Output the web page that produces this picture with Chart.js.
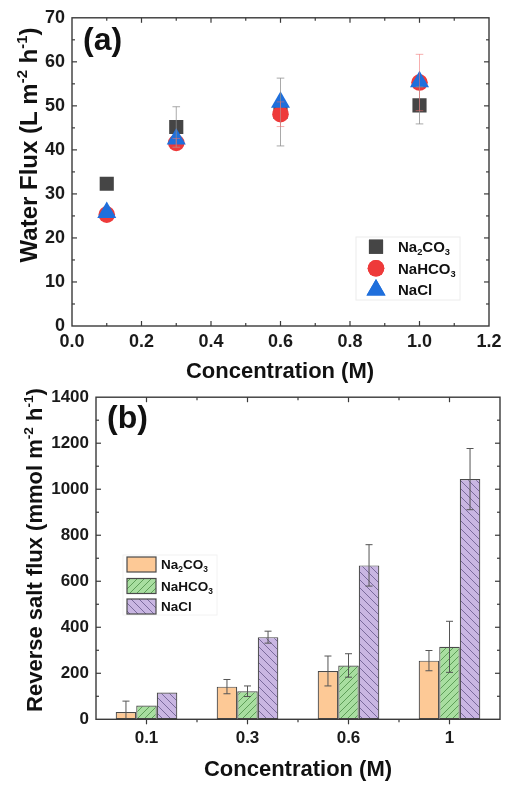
<!DOCTYPE html>
<html><head><meta charset="utf-8">
<script src="https://cdn.jsdelivr.net/npm/chart.js@4.4.1/dist/chart.umd.min.js"></script>
<style>
html,body{margin:0;padding:0;background:#fff;width:509px;height:785px;overflow:hidden}
canvas{position:absolute;left:0}
#ca{top:0}
#cb{top:380px}
</style></head><body>
<canvas id="ca" width="509" height="392"></canvas>
<canvas id="cb" width="509" height="405"></canvas>
<script>
// ---------- data: panel (a) ----------
const concA = [0.1, 0.3, 0.6, 1.0];
const fluxNa2CO3 = [32.3, 45.2, 48.6, 50.1];
const errFluxNa2CO3 = [0, 4.6, 7.7, 4.2];
const fluxNaHCO3 = [25.3, 41.6, 48.1, 55.3];
const errFluxNaHCO3 = [0, 1.0, 2.8, 6.4];
const fluxNaCl = [25.8, 42.5, 50.8, 55.5];
const errFluxNaCl = [0, 0, 0, 0];
const xTicksA = [0, 0.2, 0.4, 0.6, 0.8, 1.0, 1.2];
const yTicksA = [0, 10, 20, 30, 40, 50, 60, 70];

// ---------- data: panel (b) ----------
const categoriesB = ['0.1', '0.3', '0.6', '1'];
const rsfNa2CO3 = [32, 142, 210, 255];
const errRsfNa2CO3 = [47, 31, 65, 44];
const rsfNaHCO3 = [60, 122, 234, 315];
const errRsfNaHCO3 = [0, 23, 51, 111];
const rsfNaCl = [116, 357, 669, 1044];
const errRsfNaCl = [0, 26, 90, 133];
const yTicksB = [0, 200, 400, 600, 800, 1000, 1200, 1400];

const seriesNames = ['Na2CO3', 'NaHCO3', 'NaCl'];

const FONT = '"Liberation Sans", Arial, Helvetica, sans-serif';

function parseFormula(s) {
  const parts = [];
  for (const ch of s) {
    const sub = /[0-9]/.test(ch);
    const last = parts[parts.length - 1];
    if (last && last.sub === sub) last.t += ch; else parts.push({ t: ch, sub });
  }
  return parts;
}
function richWidth(ctx, parts, size) {
  let w = 0;
  for (const p of parts) {
    const s = (p.sub || p.sup) ? size * 0.62 : size;
    ctx.font = 'bold ' + s + 'px ' + FONT;
    w += ctx.measureText(p.t).width;
  }
  return w;
}
function drawRich(ctx, parts, x, y, size, color) {
  ctx.fillStyle = color;
  ctx.textBaseline = 'alphabetic';
  ctx.textAlign = 'left';
  for (const p of parts) {
    const s = (p.sub || p.sup) ? size * 0.62 : size;
    ctx.font = 'bold ' + s + 'px ' + FONT;
    const dy = p.sub ? size * 0.22 : (p.sup ? -size * 0.42 : 0);
    ctx.fillText(p.t, x, y + dy);
    x += ctx.measureText(p.t).width;
  }
}

function hatch(bg, line, dir, size) {
  const c = document.createElement('canvas');
  c.width = c.height = size;
  const g = c.getContext('2d');
  g.fillStyle = bg; g.fillRect(0, 0, size, size);
  g.strokeStyle = line; g.lineWidth = 1;
  g.beginPath();
  for (let k = -1; k <= 1; k++) {
    if (dir > 0) { g.moveTo(k * size, size); g.lineTo(k * size + size, 0); }
    else { g.moveTo(k * size, 0); g.lineTo(k * size + size, size); }
  }
  g.stroke();
  return document.getElementById('ca').getContext('2d').createPattern(c, 'repeat');
}

const framePlugin = {
  id: 'frame',
  afterDraw(chart, args, o) {
    const ctx = chart.ctx, a = chart.chartArea;
    const xs = chart.scales.x, ys = chart.scales.y;
    ctx.save();
    ctx.strokeStyle = '#3a3a3a';
    ctx.lineWidth = 1.4;
    ctx.strokeRect(a.left, a.top, a.right - a.left, a.bottom - a.top);
    ctx.lineWidth = 1.2;
    const seg = (x1, y1, x2, y2) => { ctx.beginPath(); ctx.moveTo(x1, y1); ctx.lineTo(x2, y2); ctx.stroke(); };
    const bOut = o.bottomOut ? 1 : -1;
    o.xMajor.forEach(v => { const p = xs.getPixelForValue(v); if (p > a.left + 1 && p < a.right - 1) { seg(p, a.bottom, p, a.bottom + bOut * 5); seg(p, a.top, p, a.top + 5); } });
    o.xMinor.forEach(v => { const p = xs.getPixelForValue(v); if (p > a.left + 1 && p < a.right - 1) { seg(p, a.bottom, p, a.bottom + bOut * 3); seg(p, a.top, p, a.top + 3); } });
    o.yMajor.forEach(v => { const p = ys.getPixelForValue(v); if (p > a.top + 1 && p < a.bottom - 1) { seg(a.left, p, a.left + 5, p); seg(a.right, p, a.right - 5, p); } });
    o.yMinor.forEach(v => { const p = ys.getPixelForValue(v); if (p > a.top + 1 && p < a.bottom - 1) { seg(a.left, p, a.left + 3, p); seg(a.right, p, a.right - 3, p); } });
    ctx.restore();
  }
};

const errorPlugin = {
  id: 'errbars',
  afterDatasetsDraw(chart) {
    const ctx = chart.ctx, ys = chart.scales.y, a = chart.chartArea;
    ctx.save();
    ctx.beginPath();
    ctx.rect(a.left, a.top, a.right - a.left, a.bottom - a.top);
    ctx.clip();
    chart.data.datasets.forEach((ds, i) => {
      if (!ds.errors) return;
      const meta = chart.getDatasetMeta(i);
      ctx.strokeStyle = ds.errorColor; ctx.lineWidth = ds.errorWidth || 1;
      meta.data.forEach((el, j) => {
        const e = ds.errors[j]; if (!e) return;
        const v = (typeof ds.data[j] === 'object') ? ds.data[j].y : ds.data[j];
        const x = el.x, y1 = ys.getPixelForValue(v + e), y2 = ys.getPixelForValue(v - e);
        const c = ds.capHalf || 3.5;
        ctx.beginPath();
        ctx.moveTo(x, y1); ctx.lineTo(x, y2);
        ctx.moveTo(x - c, y1); ctx.lineTo(x + c, y1);
        ctx.moveTo(x - c, y2); ctx.lineTo(x + c, y2);
        ctx.stroke();
      });
    });
    ctx.restore();
  }
};

const decorPlugin = {
  id: 'decor',
  afterDraw(chart, args, o) {
    const ctx = chart.ctx;
    ctx.save();
    ctx.font = 'bold ' + o.letterSize + 'px ' + FONT;
    ctx.fillStyle = '#111'; ctx.textBaseline = 'alphabetic'; ctx.textAlign = 'left';
    ctx.fillText(o.letter, o.letterX, o.letterY);
    ctx.font = 'bold ' + o.xTitleSize + 'px ' + FONT;
    ctx.textAlign = 'center'; ctx.textBaseline = 'middle';
    ctx.fillText(o.xTitle, o.xTitleX, o.xTitleY);
    ctx.save();
    ctx.translate(o.yTitleX, o.yTitleY);
    ctx.rotate(-Math.PI / 2);
    const w = richWidth(ctx, o.yTitle, o.yTitleSize);
    drawRich(ctx, o.yTitle, -w / 2, o.yTitleSize * 0.36, o.yTitleSize, '#111');
    ctx.restore();
    const L = o.legend;
    if (L.boxColor) {
      ctx.strokeStyle = L.boxColor; ctx.lineWidth = 1;
      ctx.strokeRect(L.box[0], L.box[1], L.box[2], L.box[3]);
    }
    chart.data.datasets.forEach((ds, i) => {
      const cy = L.rows[i];
      if (L.kind === 'marker') {
        ctx.fillStyle = ds.backgroundColor;
        Chart.helpers.drawPoint(ctx, { pointStyle: ds.pointStyle, radius: ds.pointRadius, borderWidth: 0 }, L.markX, cy);
        ctx.fill();
      } else {
        ctx.fillStyle = ds.backgroundColor;
        ctx.fillRect(L.markX, cy - L.patchH / 2, L.patchW, L.patchH);
        ctx.strokeStyle = ds.borderColor; ctx.lineWidth = 1.2;
        ctx.strokeRect(L.markX, cy - L.patchH / 2, L.patchW, L.patchH);
      }
      drawRich(ctx, parseFormula(ds.label), L.textX, cy + L.textSize * 0.36, L.textSize, '#111');
    });
    ctx.restore();
  }
};

function midpoints(arr) { const r = []; for (let i = 0; i < arr.length - 1; i++) r.push((arr[i] + arr[i + 1]) / 2); return r; }
const tickFont = (s) => ({ family: FONT, size: s, weight: 'bold' });

// ---------------- Panel (a) ----------------
const markerColors = ['#454545', '#ee3a3a', '#1f6fdc'];
const markerStyles = ['rect', 'circle', 'triangle'];
const markerRadii = [10, 8.3, 11];
const errColorsA = ['rgba(140,140,140,0.75)', 'rgba(240,110,110,0.55)', 'rgba(60,120,220,0.5)'];
const fluxSeries = [fluxNa2CO3, fluxNaHCO3, fluxNaCl];
const fluxErrors = [errFluxNa2CO3, errFluxNaHCO3, errFluxNaCl];

new Chart(document.getElementById('ca'), {
  type: 'scatter',
  data: {
    datasets: seriesNames.map((name, i) => ({
      label: name,
      data: concA.map((c, j) => ({ x: c, y: fluxSeries[i][j] })),
      backgroundColor: markerColors[i],
      borderWidth: 0,
      pointStyle: markerStyles[i],
      pointRadius: markerRadii[i],
      pointHoverRadius: markerRadii[i],
      errors: fluxErrors[i],
      errorColor: errColorsA[i],
      capHalf: 3.8,
      order: 3 - i
    }))
  },
  options: {
    responsive: false, animation: false, devicePixelRatio: 1,
    layout: { padding: { top: 14, right: 20, left: 0, bottom: 0 } },
    plugins: {
      legend: { display: false }, tooltip: { enabled: false },
      frame: { xMajor: xTicksA, xMinor: midpoints(xTicksA), yMajor: yTicksA, yMinor: midpoints(yTicksA), bottomOut: false },
      decor: {
        letter: '(a)', letterSize: 32, letterX: 83, letterY: 50,
        xTitle: 'Concentration (M)', xTitleSize: 22, xTitleX: 280, xTitleY: 372,
        yTitle: [{ t: 'Water Flux (L m' }, { t: '-2', sup: true }, { t: ' h' }, { t: '-1', sup: true }, { t: ')' }],
        yTitleSize: 24, yTitleX: 28, yTitleY: 145,
        legend: { kind: 'marker', box: [356, 237, 104, 63], boxColor: '#ececec', rows: [246.7, 268.3, 290], markX: 376, textX: 398, textSize: 15 }
      }
    },
    scales: {
      x: {
        type: 'linear', min: 0, max: 1.2,
        afterBuildTicks: (s) => { s.ticks = xTicksA.map(v => ({ value: v })); },
        afterFit: (s) => { s.height = 66; },
        grid: { display: false, drawTicks: false }, border: { display: false },
        ticks: { font: tickFont(18), color: '#1a1a1a', padding: 5, autoSkip: false, maxRotation: 0, callback: (v) => Number(v).toFixed(1) }
      },
      y: {
        type: 'linear', min: 0, max: 70,
        afterBuildTicks: (s) => { s.ticks = yTicksA.map(v => ({ value: v })); },
        afterFit: (s) => { s.width = 72; },
        grid: { display: false, drawTicks: false }, border: { display: false },
        ticks: { font: tickFont(18), color: '#1a1a1a', padding: 7, autoSkip: false, callback: (v) => String(v) }
      }
    }
  },
  plugins: [errorPlugin, framePlugin, decorPlugin]
});

// ---------------- Panel (b) ----------------
const barFills = [
  '#fdc996',
  hatch('#a8dea0', '#5e9e58', 1, 7),
  hatch('#c9b6e2', '#7a6a9c', -1, 8)
];
const rsfSeries = [rsfNa2CO3, rsfNaHCO3, rsfNaCl];
const rsfErrors = [errRsfNa2CO3, errRsfNaHCO3, errRsfNaCl];

new Chart(document.getElementById('cb'), {
  type: 'bar',
  data: {
    labels: categoriesB,
    datasets: seriesNames.map((name, i) => ({
      label: name,
      data: rsfSeries[i],
      backgroundColor: barFills[i],
      borderColor: '#4a4a4a',
      borderWidth: 1.2,
      borderSkipped: false,
      errors: rsfErrors[i],
      errorColor: '#555',
      capHalf: 3.5
    }))
  },
  options: {
    responsive: false, animation: false, devicePixelRatio: 1,
    layout: { padding: { top: 10, right: 9, left: 0, bottom: 0 } },
    datasets: { bar: { categoryPercentage: 0.61, barPercentage: 1.0 } },
    plugins: {
      legend: { display: false }, tooltip: { enabled: false },
      frame: { xMajor: [0, 1, 2, 3], xMinor: [0.5, 1.5, 2.5], yMajor: yTicksB, yMinor: midpoints(yTicksB), bottomOut: true },
      decor: {
        letter: '(b)', letterSize: 32, letterX: 107, letterY: 48,
        xTitle: 'Concentration (M)', xTitleSize: 22, xTitleX: 298, xTitleY: 390,
        yTitle: [{ t: 'Reverse salt flux (mmol m' }, { t: '-2', sup: true }, { t: ' h' }, { t: '-1', sup: true }, { t: ')' }],
        yTitleSize: 22, yTitleX: 34, yTitleY: 170,
        legend: { kind: 'patch', box: [123, 175, 94, 60], boxColor: '#f2f2f2', rows: [184.5, 206, 226.5], markX: 127, patchW: 29, patchH: 15, textX: 161, textSize: 13.5 }
      }
    },
    scales: {
      x: {
        type: 'category',
        afterFit: (s) => { s.height = 65.7; },
        grid: { display: false, drawTicks: false }, border: { display: false },
        ticks: { font: tickFont(17), color: '#1a1a1a', padding: 9, autoSkip: false, maxRotation: 0 }
      },
      y: {
        type: 'linear', min: 0, max: 1400,
        afterBuildTicks: (s) => { s.ticks = yTicksB.map(v => ({ value: v })); },
        afterFit: (s) => { s.width = 96; },
        grid: { display: false, drawTicks: false }, border: { display: false },
        ticks: { font: tickFont(17), color: '#1a1a1a', padding: 7, autoSkip: false, callback: (v) => String(v) }
      }
    }
  },
  plugins: [errorPlugin, framePlugin, decorPlugin]
});
</script>
</body></html>
